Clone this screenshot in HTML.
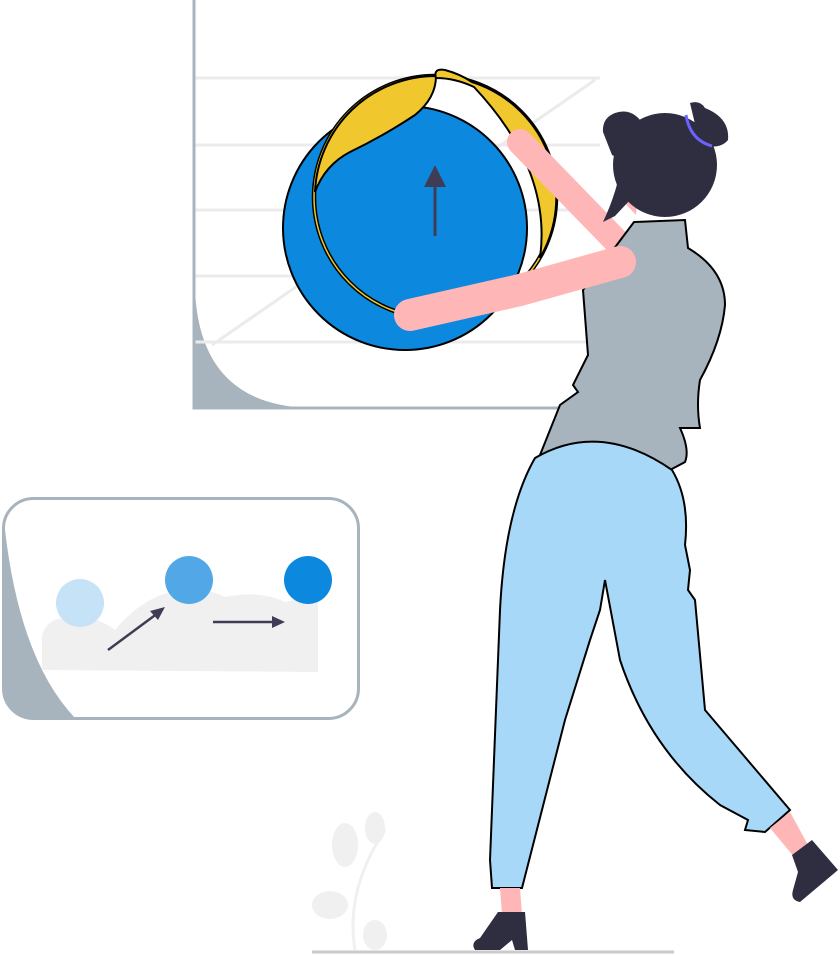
<!DOCTYPE html>
<html><head><meta charset="utf-8"><style>html,body{margin:0;padding:0;background:#fff}svg{display:block}</style></head>
<body>
<svg width="840" height="956" viewBox="0 0 840 956" xmlns="http://www.w3.org/2000/svg">
<!-- board -->
<path d="M195 290 Q200 405 310 408 L195 408 Z" fill="#a8b4bd"/>
<g stroke="#ebebeb" stroke-width="3">
<line x1="195" y1="78" x2="600" y2="78"/><line x1="195" y1="145" x2="600" y2="145"/>
<line x1="195" y1="210" x2="600" y2="210"/><line x1="195" y1="276" x2="600" y2="276"/>
<line x1="195" y1="342" x2="600" y2="342"/><line x1="212" y1="345" x2="595" y2="80"/>
</g>
<path d="M194 0 V408 H590" fill="none" stroke="#a8b4bd" stroke-width="3"/>
<!-- globe -->
<circle cx="405" cy="228" r="122" fill="#0c89de" stroke="#000" stroke-width="2"/>
<!-- ring -->
<circle cx="435" cy="197" r="121" fill="none" stroke="#000" stroke-width="4.5"/>
<circle cx="435" cy="197" r="121" fill="none" stroke="#f0c82e" stroke-width="1.5"/>
<!-- top-left crescent -->
<path d="M436 76 A121 121 0 0 0 315 192 Q325 165 350 152 Q385 135 415 115 Q436 98 436 76 Z" fill="#f0c82e" stroke="#000" stroke-width="2"/>
<!-- tab + right sliver -->
<path d="M436 78 Q433 68 445 70 Q460 74 472 82 A121 121 0 0 1 540 258 Q552 170 474 87 Q455 78 436 78 Z" fill="#f0c82e" stroke="#000" stroke-width="2"/>
<line x1="435" y1="236" x2="435" y2="175" stroke="#3f3d56" stroke-width="3"/>
<path d="M435 165 L424 187 L446 187Z" fill="#3f3d56"/>
<!-- arms back -->
<path d="M520 142 L620 245" stroke="#ffb6b6" stroke-width="26" stroke-linecap="round"/>
<!-- torso -->
<path d="M634 222 L685 220 L688 248 Q725 270 725 305 Q722 340 700 380 Q696 405 700 428 L680 428 Q690 450 685 462 L670 470 L540 455 L560 405 L578 392 L573 385 L588 355 L583 290 Z" fill="#a8b4bd" stroke="#000" stroke-width="2"/>
<!-- hair/head -->
<path d="M622 150 Q612 175 622 200 L636 215 L640 160 Z" fill="#ffb6b6"/>
<circle cx="665" cy="165" r="52" fill="#2f2e41"/>
<path d="M615 113 Q602 118 603 132 L612 155 L622 160 Q618 190 603 222 L615 216 L630 200 L640 160 L640 120 Q630 108 615 113 Z" fill="#2f2e41"/>
<path d="M690 103 Q700 100 705 108 Q730 118 728 140 Q720 150 700 145 Z" fill="#2f2e41"/>
<path d="M686 115 Q690 140 712 146" fill="none" stroke="#6c63ff" stroke-width="3"/>
<!-- front arm -->
<path d="M410 315 L520 290 L620 262" stroke="#ffb6b6" stroke-width="32" stroke-linecap="round"/>
<!-- pants -->
<path d="M535 458 Q600 420 672 470 Q690 500 685 545 L690 570 L688 590 L695 600 L705 710 L790 810 L765 832 L745 830 L748 820 L720 805 Q650 750 620 660 L605 580 L600 610 L590 640 L565 720 L522 888 L492 888 L490 860 L500 610 Q505 510 535 458Z" fill="#a8d8f8" stroke="#000" stroke-width="2"/>
<!-- legs & shoes -->
<path d="M500 888 L520 888 L522 915 L502 915Z" fill="#ffb6b6"/>
<path d="M498 912 L525 912 L528 950 L515 950 L512 940 L500 950 L475 950 Q470 942 480 938 Z" fill="#2f2e41"/>
<path d="M770 828 L790 812 L808 845 L795 858 Z" fill="#ffb6b6"/>
<path d="M792 855 L812 840 L838 870 L800 902 Q790 900 793 890 L798 872 Z" fill="#2f2e41"/>
<!-- card -->
<path d="M5 530 Q20 660 75 718 L35 718 Q5 718 5 690Z" fill="#a8b4bd"/>
<rect x="3.5" y="498.5" width="355" height="220" rx="30" fill="none" stroke="#a8b4bd" stroke-width="3"/>
<path d="M42 670 L42 635 Q48 615 75 618 Q95 615 115 630 Q140 600 170 592 Q200 585 225 597 Q260 590 285 602 L318 595 L318 672 Z" fill="#f0f0f0"/>
<circle cx="80" cy="603" r="24" fill="#c5e2f7"/>
<circle cx="189" cy="580" r="24" fill="#52a8e6"/>
<circle cx="308" cy="580" r="24" fill="#0c89de"/>
<line x1="108" y1="650" x2="158" y2="613" stroke="#3f3d56" stroke-width="2.5"/>
<path d="M165 607 L150 611 L158 620Z" fill="#3f3d56"/>
<line x1="213" y1="622" x2="275" y2="622" stroke="#3f3d56" stroke-width="2.5"/>
<path d="M285 622 L272 616 L272 628Z" fill="#3f3d56"/>
<!-- plant -->
<path d="M355 950 Q345 890 385 830" fill="none" stroke="#f0f0f0" stroke-width="3"/>
<ellipse cx="375" cy="828" rx="10" ry="16" fill="#f0f0f0"/>
<ellipse cx="345" cy="845" rx="13" ry="22" fill="#f0f0f0"/>
<ellipse cx="330" cy="905" rx="18" ry="14" fill="#f0f0f0"/>
<ellipse cx="375" cy="935" rx="12" ry="15" fill="#f0f0f0"/>
<line x1="312" y1="952" x2="674" y2="952" stroke="#cacaca" stroke-width="3"/>
</svg>
</body></html>
